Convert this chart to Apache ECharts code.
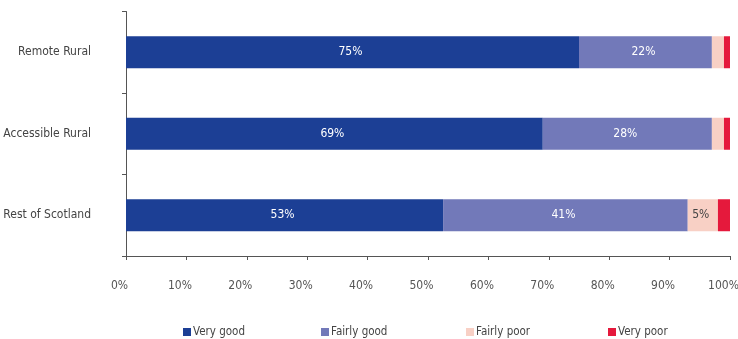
<!DOCTYPE html>
<html><head><meta charset="utf-8">
<script src="https://cdn.jsdelivr.net/npm/echarts@6/dist/echarts.min.js"></script>
<style>html,body{margin:0;padding:0;background:#fff}#c{width:738px;height:339px}</style>
</head><body><div id="c"></div>
<script>
const categories = ['Remote Rural', 'Accessible Rural', 'Rest of Scotland'];
const veryGood = [75, 69, 52.5];
const fairlyGood = [22, 28, 40.5];
const fairlyPoor = [2, 2, 5];
const veryPoor = [1, 1, 2];
const xTicks = [0, 10, 20, 30, 40, 50, 60, 70, 80, 90, 100];

const FONT = "'Liberation Sans Narrow','DejaVu Sans Condensed',Arial,sans-serif";
const colors = ['#1c3f95', '#7279b9', '#f8d0c5', '#e5193c'];
const names = ['Very good', 'Fairly good', 'Fairly poor', 'Very poor'];
const values = [veryGood, fairlyGood, fairlyPoor, veryPoor];
const labelColors = ['#ffffff', '#ffffff', '#444444', '#ffffff'];

const series = names.map((n, i) => ({
  name: n, type: 'bar', stack: 'a', barWidth: 32,
  data: values[i],
  itemStyle: { color: colors[i] },
  label: {
    show: true, position: 'inside', fontFamily: FONT, fontSize: 12,
    color: labelColors[i], offset: [-2, 0],
    formatter: p => p.value >= 5 ? Math.round(p.value) + '%' : ''
  }
}));

const legendX = [183, 321, 466, 608];
const legends = names.map((n, i) => ({
  data: [n], left: legendX[i], top: 326, itemWidth: 8, itemHeight: 8,
  icon: 'rect', itemGap: 0, padding: 0,
  textStyle: { fontFamily: FONT, fontSize: 11.5, color: '#444', padding: [2, 0, 0, -3] }
}));

const chart = echarts.init(document.getElementById('c'));
chart.setOption({
  animation: false,
  color: colors,
  grid: { left: 126, right: 8, top: 11.5, bottom: 83, containLabel: false, outerBoundsMode: 'none' },
  legend: legends,
  xAxis: {
    type: 'value', min: 0, max: 100, interval: 10,
    axisLine: { show: true, lineStyle: { color: '#555', width: 1 } },
    axisTick: { show: true, length: 4, lineStyle: { color: '#555' } },
    splitLine: { show: false },
    axisLabel: { fontFamily: FONT, fontSize: 12, color: '#555', margin: 24,
      padding: [0, 13, 0, 0],
      formatter: v => xTicks.includes(v) ? v + '%' : '' }
  },
  yAxis: {
    type: 'category', data: categories, inverse: true,
    axisLine: { show: true, lineStyle: { color: '#555', width: 1 } },
    axisTick: { show: true, length: 4, lineStyle: { color: '#555' } },
    axisLabel: { fontFamily: FONT, fontSize: 12, color: '#444', margin: 35 }
  },
  series: series
});
</script></body></html>
